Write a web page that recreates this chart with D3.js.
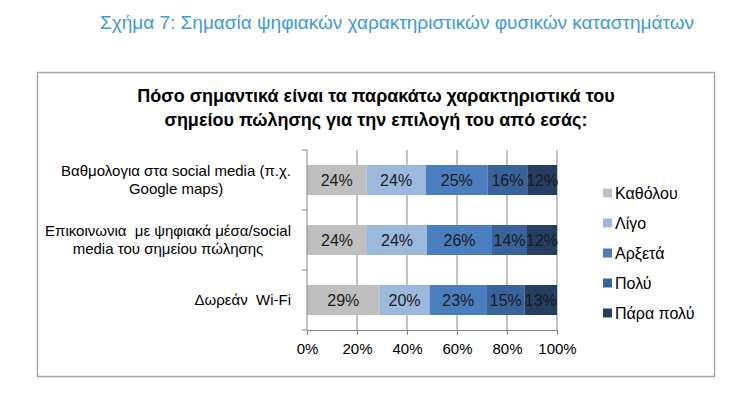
<!DOCTYPE html>
<html><head><meta charset="utf-8">
<script src="https://cdn.jsdelivr.net/npm/d3@7"></script>
<style>
body{margin:0;background:#fff;}
svg text{font-family:"Liberation Sans Narrow","Arial Narrow","Liberation Sans",Arial,sans-serif;white-space:pre;}
</style></head>
<body><svg id="c" width="750" height="408"></svg>
<script>
const pageTitle = "Σχήμα 7: Σημασία ψηφιακών χαρακτηριστικών φυσικών καταστημάτων";
const chartTitle = ["Πόσο σημαντικά είναι τα παρακάτω χαρακτηριστικά του", "σημείου πώλησης για την επιλογή του από εσάς:"];
const categories = [
  ["Βαθμολογια στα social media (π.χ.", "Google maps)"],
  ["Επικοινωνια  με ψηφιακά μέσα/social", "media του σημείου πώλησης"],
  ["Δωρεάν  Wi-Fi"]
];
const seriesNames = ["Καθόλου", "Λίγο", "Αρξετά", "Πολύ", "Πάρα πολύ"];
const colors = ["#bfbfbf", "#9bb8dd", "#4a7ebe", "#38639b", "#253f62"];
const values = [
  [24, 24, 25, 16, 12],
  [24, 24, 26, 14, 12],
  [29, 20, 23, 15, 13]
];
const ticks = [0, 20, 40, 60, 80, 100];

const svg = d3.select("#c");
svg.append("text").attr("x", 397).attr("y", 29).attr("text-anchor", "middle")
  .attr("font-size", 19).attr("fill", "#3d9ae0").text(pageTitle);

svg.append("rect").attr("x", 37.5).attr("y", 72.5).attr("width", 677).attr("height", 304)
  .attr("fill", "#fff").attr("stroke", "#a6a6a6").attr("stroke-width", 1.5);

chartTitle.forEach((t, i) => svg.append("text").attr("x", 376).attr("y", 102 + i * 24)
  .attr("text-anchor", "middle").attr("font-size", 18).attr("font-weight", "bold")
  .attr("fill", "#000").text(t));

const x = d3.scaleLinear().domain([0, 100]).range([307, 557]);
const y = d3.scaleBand().domain(d3.range(categories.length)).range([150, 330]).paddingInner(0.5).paddingOuter(0.25);

// gridlines
svg.append("g").selectAll("line").data(ticks.slice(1)).join("line")
  .attr("x1", d => x(d)).attr("x2", d => x(d)).attr("y1", 150).attr("y2", 330)
  .attr("stroke", "#868686").attr("stroke-width", 1);

// stacked bars
values.forEach((row, ri) => {
  const sum = d3.sum(row);
  let acc = 0;
  row.forEach((v, si) => {
    const x0 = acc / sum * 100, x1 = (acc + v) / sum * 100;
    acc += v;
    svg.append("rect").attr("x", x(x0)).attr("y", y(ri)).attr("width", x(x1) - x(x0))
      .attr("height", y.bandwidth()).attr("fill", colors[si]);
    svg.append("text").attr("x", (x(x0) + x(x1)) / 2).attr("y", y(ri) + y.bandwidth() / 2 + 6)
      .attr("text-anchor", "middle").attr("font-size", 16).attr("fill", "#1a1a1a").text(v + "%");
  });
});

// x axis
const xa = svg.append("g").attr("transform", "translate(0,330)")
  .call(d3.axisBottom(x).tickValues(ticks).tickFormat(d => d + "%").tickSize(5).tickPadding(8));
xa.select(".domain").attr("stroke", "#868686");
xa.selectAll(".tick line").attr("stroke", "#868686");
xa.selectAll("text").attr("font-size", 15).attr("fill", "#000")
  .attr("font-family", "'Liberation Sans Narrow','Arial Narrow','Liberation Sans',sans-serif");

// y axis (category boundaries)
const yBounds = d3.range(categories.length + 1).map(i => 150 + i * 60);
svg.append("line").attr("x1", 307).attr("x2", 307).attr("y1", 150).attr("y2", 330).attr("stroke", "#868686");
svg.selectAll("line.yt").data(yBounds).join("line").attr("class", "yt")
  .attr("x1", 302).attr("x2", 307).attr("y1", d => d).attr("y2", d => d).attr("stroke", "#868686");

// category labels
categories.forEach((lines, i) => {
  const cy = y(i) + y.bandwidth() / 2;
  const lh = 18;
  const t = svg.append("text").attr("text-anchor", "middle").attr("font-size", 15).attr("fill", "#000");
  lines.forEach((l, li) => t.append("tspan").attr("x", 0)
    .attr("y", cy + 5 + (li - (lines.length - 1) / 2) * lh).text(l));
  const w = t.node().getBBox().width;
  t.selectAll("tspan").attr("x", 291 - w / 2);
});

// legend
const leg = svg.append("g");
seriesNames.forEach((n, i) => {
  const ly = 193 + i * 30;
  leg.append("rect").attr("x", 603).attr("y", ly - 4.5).attr("width", 9).attr("height", 9).attr("fill", colors[i]);
  leg.append("text").attr("x", 615).attr("y", ly + 5.5).attr("font-size", 16).attr("fill", "#000").text(n);
});
</script></body></html>
